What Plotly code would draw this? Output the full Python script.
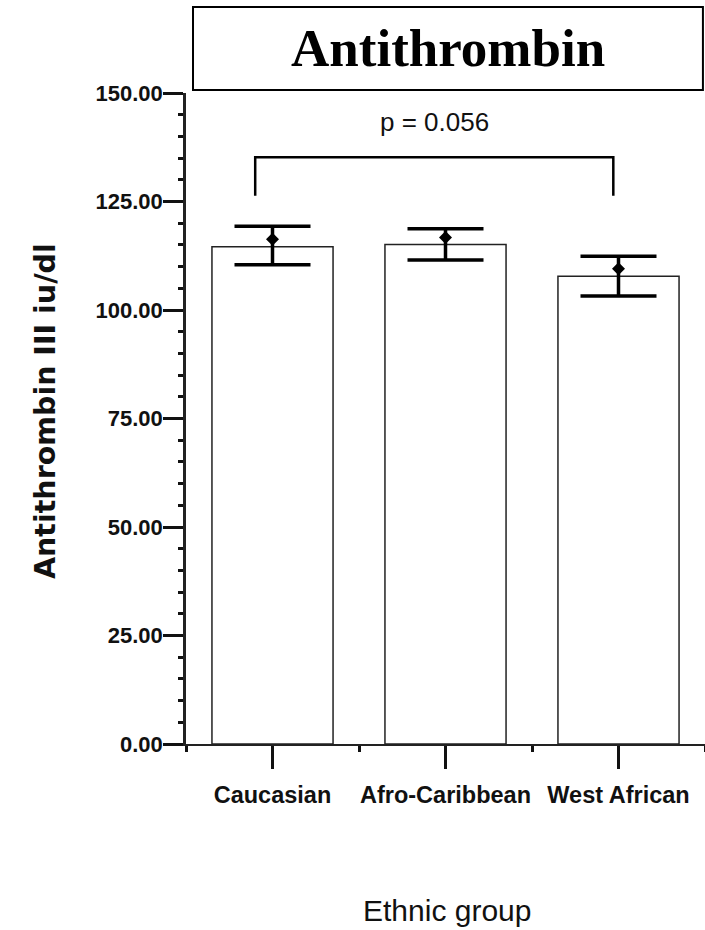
import plotly.graph_objects as go

# ---- data ----
categories = ["Caucasian", "Afro-Caribbean", "West African"]
bar_values = [114.6, 115.1, 107.8]          # bar height (median)
mean_values = [116.3, 116.7, 109.5]         # dot (mean)
ci_upper = [119.3, 118.7, 112.4]            # upper CI cap
ci_lower = [110.4, 111.5, 103.2]            # lower CI cap
y_ticks = [0, 25, 50, 75, 100, 125, 150]
p_text = "p = 0.056"
bracket_x = [-0.1, 1.97]
bracket_y = [126.3, 135.2]

x_pos = list(range(len(categories)))
err_plus = [u - m for u, m in zip(ci_upper, mean_values)]
err_minus = [m - l for m, l in zip(mean_values, ci_lower)]

SANS = "Liberation Sans, Arial"

fig = go.Figure()
fig.add_trace(go.Bar(
    x=x_pos, y=bar_values, width=0.70,
    marker=dict(color="white", line=dict(color="#222", width=1.5)),
    showlegend=False, hoverinfo="skip",
))
fig.add_trace(go.Scatter(
    x=x_pos, y=mean_values, mode="markers",
    marker=dict(symbol="diamond", size=10, color="black"),
    error_y=dict(type="data", symmetric=False, array=err_plus, arrayminus=err_minus,
                 color="black", thickness=3.5, width=38),
    showlegend=False, hoverinfo="skip",
))
# significance bracket
fig.add_trace(go.Scatter(
    x=[bracket_x[0], bracket_x[0], bracket_x[1], bracket_x[1]],
    y=[bracket_y[0], bracket_y[1], bracket_y[1], bracket_y[0]],
    mode="lines", line=dict(color="black", width=2.5),
    showlegend=False, hoverinfo="skip",
))
fig.add_annotation(x=(bracket_x[0] + bracket_x[1]) / 2, y=143.3, xref="x", yref="y",
                   text=p_text, showarrow=False, xanchor="center", yanchor="middle",
                   font=dict(family=SANS, size=26, color="#111"))

# title box
fig.add_shape(type="rect", xref="paper", yref="paper",
              x0=0.0135, x1=0.996, y0=1.0046, y1=1.132,
              line=dict(color="black", width=2), fillcolor="white")
fig.add_annotation(xref="paper", yref="paper", x=0.505, y=1.069,
                   xanchor="center", yanchor="middle",
                   text="<b>Antithrombin</b>", showarrow=False,
                   font=dict(family="Liberation Serif, Times New Roman", size=53, color="black"))

# y-axis title
fig.add_annotation(xref="paper", yref="paper", x=-0.2717, y=0.5115,
                   xanchor="center", yanchor="middle",
                   text="<b>Antithrombin III iu/dl</b>", showarrow=False, textangle=-90,
                   font=dict(family="DejaVu Sans", size=28.5, color="#111"))
# x-axis title
fig.add_annotation(xref="paper", yref="paper", x=0.502, y=(744 - 910) / 651,
                   xanchor="center", yanchor="middle",
                   text="Ethnic group", showarrow=False,
                   font=dict(family=SANS, size=30, color="#111"))

fig.update_xaxes(
    range=[-0.5, 2.5], tickvals=x_pos, ticktext=[f"<b>{c}</b>" for c in categories],
    showline=True, linecolor="#222", linewidth=2,
    ticks="outside", ticklen=23, tickwidth=3, tickcolor="#111",
    minor=dict(dtick=0.5, tick0=0.5, ticks="outside", ticklen=6, tickwidth=3, tickcolor="#111"),
    showgrid=False, zeroline=False, ticklabelstandoff=6,
    tickfont=dict(family=SANS, size=23.5, color="#111"),
)
fig.update_yaxes(
    range=[0, 150], tickvals=y_ticks, ticktext=[f"<b>{v:.2f}</b>" for v in y_ticks],
    showline=True, linecolor="#222", linewidth=2.5,
    ticks="outside", ticklen=20, tickwidth=3, tickcolor="#111",
    minor=dict(dtick=5, ticks="outside", ticklen=5, tickwidth=3, tickcolor="#111"),
    showgrid=False, zeroline=False, ticklabelstandoff=-4,
    tickfont=dict(family=SANS, size=22, color="#111"),
)
fig.update_layout(
    width=705, height=930,
    margin=dict(l=186, r=0, t=93, b=186),
    plot_bgcolor="white", paper_bgcolor="white",
)
fig.write_html("out.html")
